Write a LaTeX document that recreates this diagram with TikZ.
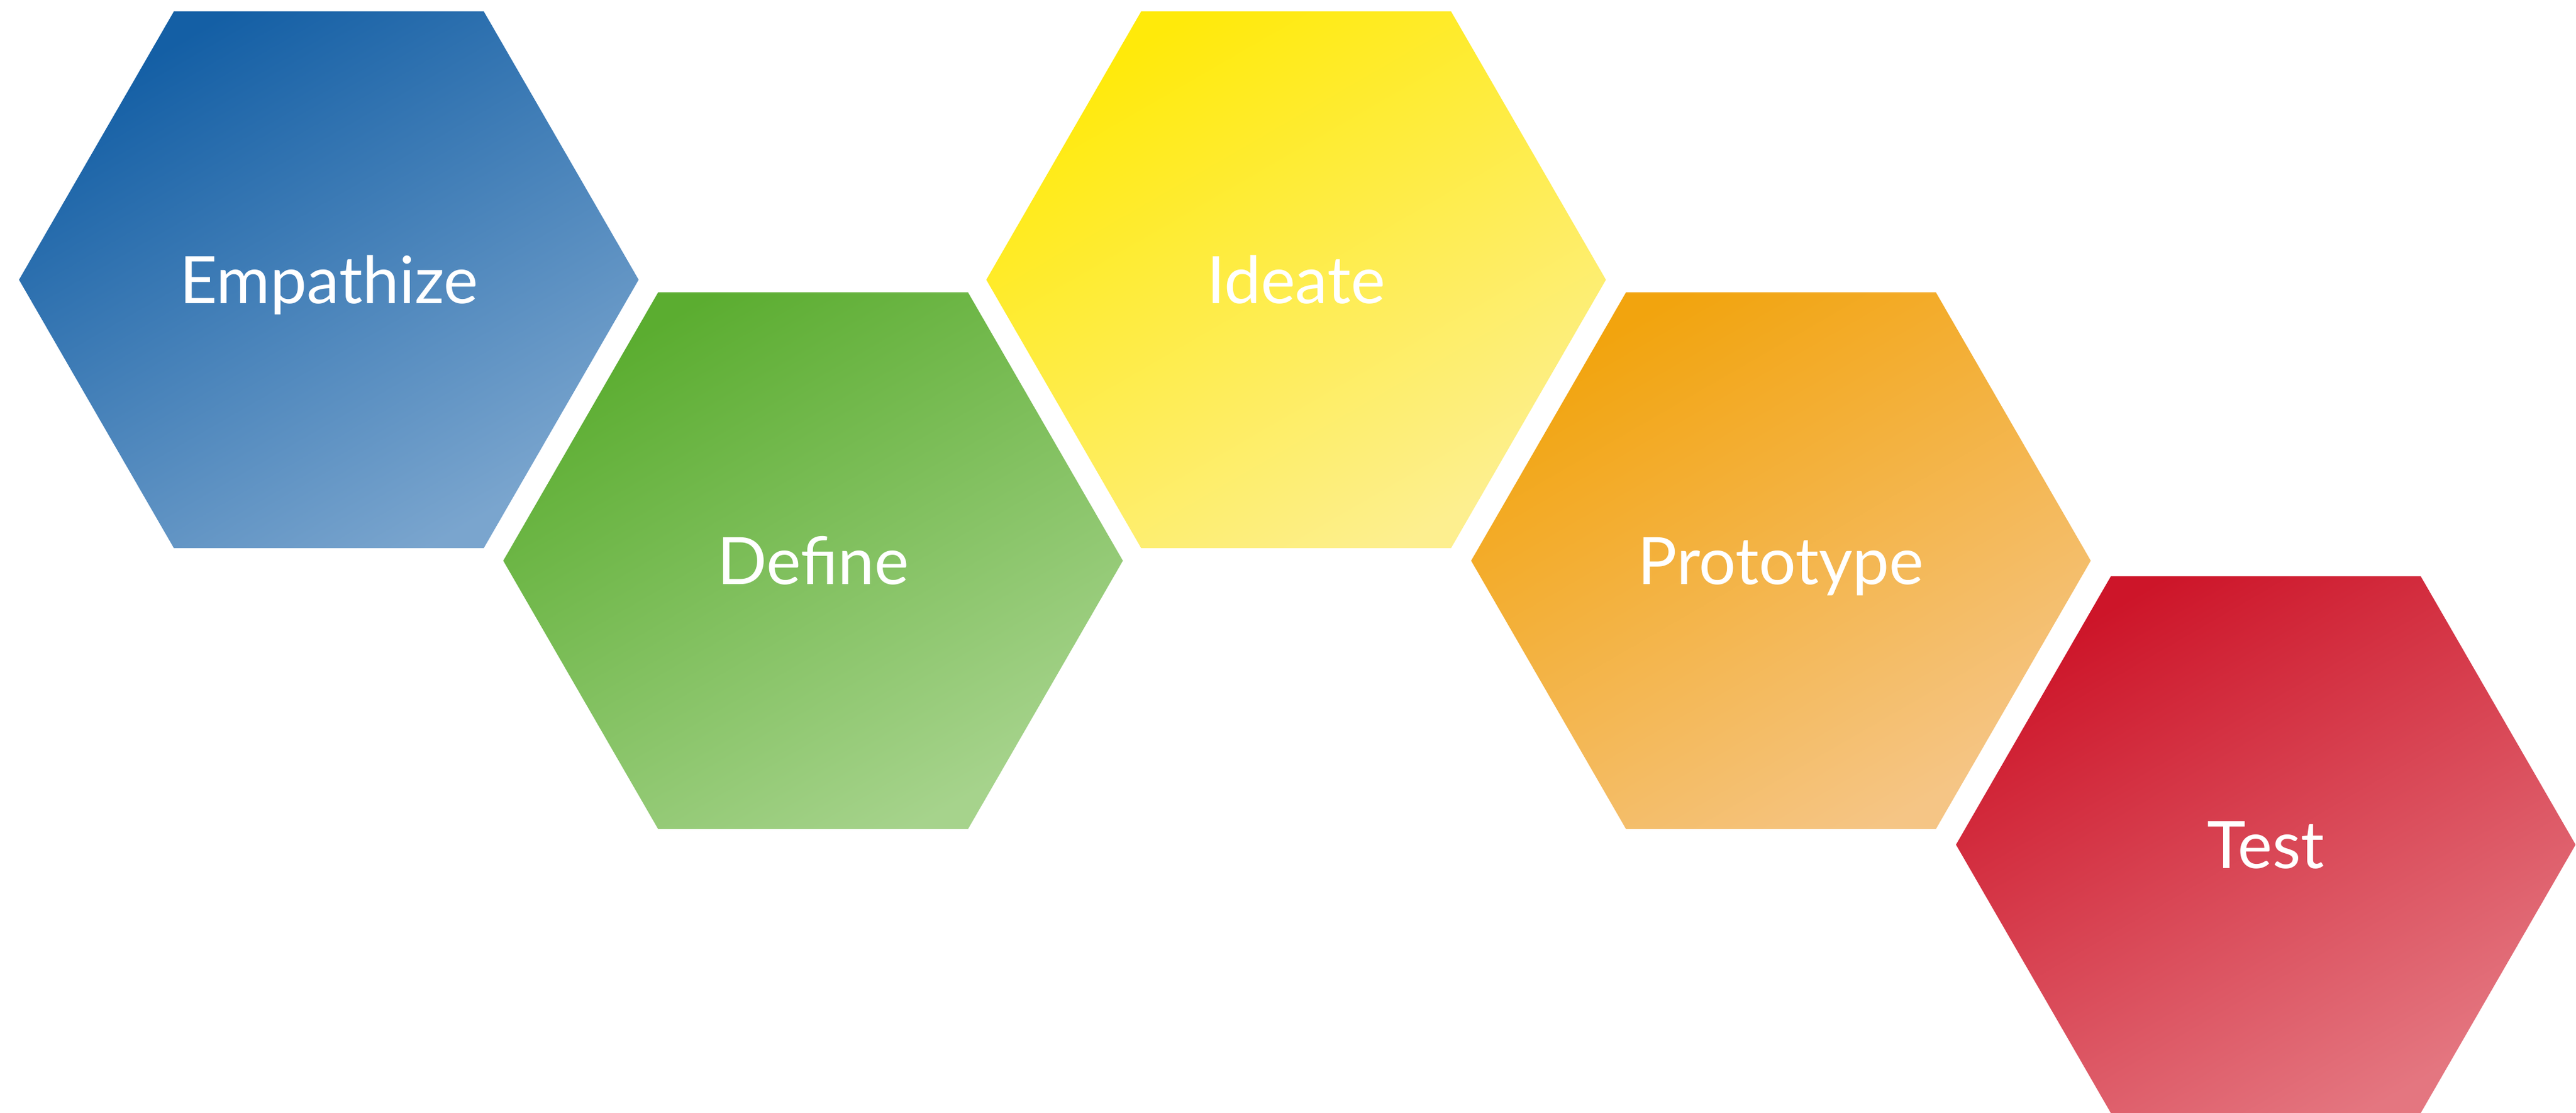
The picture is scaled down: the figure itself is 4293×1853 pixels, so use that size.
\documentclass[tikz,border=0pt]{standalone}
\usepackage{fontspec}
\setmainfont{Lato}
\usetikzlibrary{shapes.geometric}
\definecolor{bluedark}{HTML}{145FA5}
\definecolor{bluelight}{HTML}{7AA5CE}
\definecolor{greendark}{HTML}{5BAD30}
\definecolor{greenlight}{HTML}{A6D38C}
\definecolor{yellowdark}{HTML}{FFEA0A}
\definecolor{yellowlight}{HTML}{FDEF8F}
\definecolor{orangedark}{HTML}{F2A40E}
\definecolor{orangelight}{HTML}{F5C585}
\definecolor{reddark}{HTML}{CD1529}
\definecolor{redlight}{HTML}{E47680}
\begin{document}
\begin{tikzpicture}[x=0.01cm,y=-0.01cm,
  hexa/.style 2 args={regular polygon, regular polygon sides=6, minimum size=10.32cm,
    inner sep=0pt, top color=#1, bottom color=#2, shading angle=30, text=white,
    font=\fontsize{31}{37}\selectfont, text height=22.2pt, text depth=0pt}]
\useasboundingbox (0,0) rectangle (4293,1853);
\node (empathize) [hexa={bluedark}{bluelight}] at (548,466) {Empathize};
\node (define) [hexa={greendark}{greenlight}] at (1355,934) {Define};
\node (ideate) [hexa={yellowdark}{yellowlight}] at (2160,466) {Ideate};
\node (prototype) [hexa={orangedark}{orangelight}] at (2968,934) {Prototype};
\node (test) [hexa={reddark}{redlight}] at (3776,1407) {Test};
\end{tikzpicture}
\end{document}
